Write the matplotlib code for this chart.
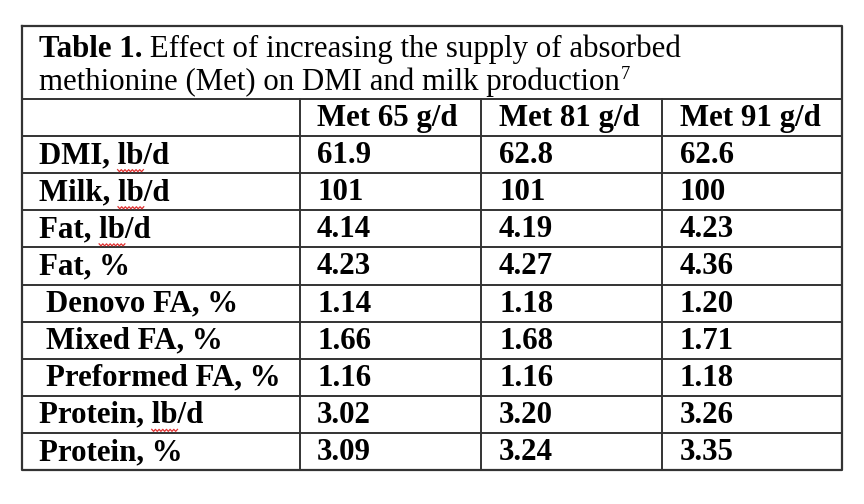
import numpy as np
import matplotlib
matplotlib.use("Agg")
import matplotlib.pyplot as plt

# table content
title_bold = "Table 1."
title_line1 = " Effect of increasing the supply of absorbed"
title_line2 = "methionine (Met) on DMI and milk production"
title_sup = "7"
col_headers = ["Met 65 g/d", "Met 81 g/d", "Met 91 g/d"]
row_labels = ["DMI, lb/d", "Milk, lb/d", "Fat, lb/d", "Fat, %",
              " Denovo FA, %", " Mixed FA, %", " Preformed FA, %",
              "Protein, lb/d", "Protein, %"]
met65 = ["61.9", "101", "4.14", "4.23", "1.14", "1.66", "1.16", "3.02", "3.09"]
met81 = ["62.8", "101", "4.19", "4.27", "1.18", "1.68", "1.16", "3.20", "3.24"]
met91 = ["62.6", "100", "4.23", "4.36", "1.20", "1.71", "1.18", "3.26", "3.35"]
spell_flag = [True, True, True, False, False, False, False, True, False]  # red squiggle under "lb"

FONT = "Liberation Serif"
FS = 22.2
LC = "#333333"

fig = plt.figure(figsize=(8.64, 5.04), dpi=100)
ax = fig.add_axes([0, 0, 1, 1])
ax.set_xlim(0, 864)
ax.set_ylim(504, 0)
ax.axis("off")

left, right, top, bottom = 22, 842, 26, 470
title_bot = 99
row_h = (bottom - title_bot) / (len(row_labels) + 1)
col_x = [left, 300, 481, 662, right]

# grid lines
ax.plot([left, right, right, left, left], [top, top, bottom, bottom, top], color=LC, lw=1.6)
for i in range(len(row_labels) + 1):
    y = title_bot + i * row_h
    ax.plot([left, right], [y, y], color=LC, lw=1.4)
for x in col_x[1:-1]:
    ax.plot([x, x], [title_bot, bottom], color=LC, lw=1.4)

fig.canvas.draw()
r = fig.canvas.get_renderer()


def px_width(s, weight):
    t = ax.text(0, 0, s, fontsize=FS, family=FONT, fontweight=weight)
    w = t.get_window_extent(r).width
    t.remove()
    return w


# title
t1 = ax.text(39, 57, title_bold, fontsize=FS, family=FONT, fontweight="bold", va="baseline")
w1 = t1.get_window_extent(r).width
ax.text(39 + w1, 57, title_line1, fontsize=FS, family=FONT, va="baseline")
t2 = ax.text(39, 90, title_line2, fontsize=FS, family=FONT, va="baseline")
w2 = t2.get_window_extent(r).width
ax.text(39 + w2 + 1, 79, title_sup, fontsize=FS * 0.6, family=FONT, va="baseline")

# header
text_x = [39, 317, 499, 680]
for j, h in enumerate(col_headers):
    ax.text(text_x[j + 1], title_bot + row_h * 0.5 + 1, h, fontsize=FS, family=FONT,
            fontweight="bold", va="center")

# body
for i, lab in enumerate(row_labels):
    yc = title_bot + row_h * (i + 1.5) + 1
    lx = 46 if lab.startswith(" ") else text_x[0]
    ax.text(lx, yc, lab.strip(), fontsize=FS, family=FONT, fontweight="bold", va="center")
    for j, vals in enumerate([met65, met81, met91]):
        ax.text(text_x[j + 1], yc, vals[i], fontsize=FS, family=FONT, fontweight="bold", va="center")
    if spell_flag[i]:
        pre = lab.strip().split("lb")[0] + "lb"
        x1 = lx + px_width(pre, "bold")
        x0 = x1 - px_width("lb", "bold")
        xs = np.linspace(x0, x1, 15)
        ys = yc + 15 + np.where(np.arange(15) % 2 == 0, -1.0, 1.0)
        ax.plot(xs, ys, color="#e03030", lw=0.9)

fig.savefig("out.png", dpi=100, facecolor="white")
